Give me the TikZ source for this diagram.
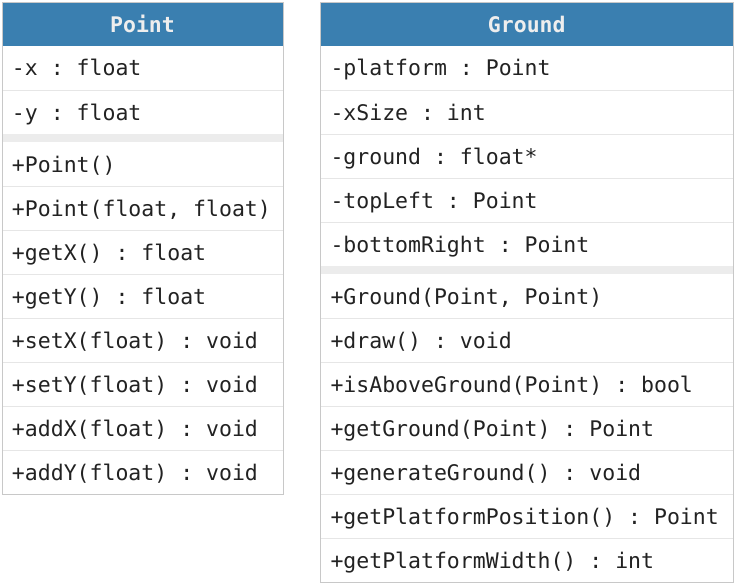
\documentclass[tikz,border=0pt]{standalone}
\usepackage{fontspec}
\newfontfamily\codefont{DejaVu Sans Mono}
\definecolor{hdrblue}{RGB}{58,127,176}
\definecolor{hdrtext}{RGB}{238,238,238}
\definecolor{ink}{RGB}{34,34,34}
\definecolor{sepgray}{RGB}{236,236,236}
\definecolor{framegray}{RGB}{200,200,200}
\definecolor{rowline}{RGB}{230,230,230}
% fixed-width spaces and a common strut for every row
\newcommand\rowstrut{\spaceskip=0.602em\relax\xspaceskip=0.602em\relax\rule[-8pt]{0pt}{32pt}}
\tikzset{
  hdr/.style={fill=hdrblue, text=hdrtext, font=\codefont\bfseries\fontsize{21.5}{26}\selectfont,
    minimum height=43, inner sep=0, outer sep=0, anchor=north west, execute at begin node=\rowstrut},
  member/.style={text=ink, font=\codefont\fontsize{21.5}{26}\selectfont, minimum height=44,
    inner xsep=10, inner ysep=0, outer sep=0, align=left, anchor=north west, execute at begin node=\rowstrut},
  pmem/.style={member, text width=261},
  gmem/.style={member, text width=392.5},
  gapband/.style={fill=sepgray, minimum height=8, inner sep=0, outer sep=0, anchor=north west},
  frame/.style={draw=framegray, line width=1pt},
  divider/.style={draw=rowline, line width=1pt}
}
\begin{document}
\begin{tikzpicture}[x=1pt,y=-1pt]
\useasboundingbox (0,0) rectangle (736,586);
\fill[white] (0,0) rectangle (736,586);

% class Point
\node[hdr, minimum width=281] (pt) at (2,3) {Point};
\node[pmem] (pa1) at (pt.south west) {-x : float};
\node[pmem] (pa2) at (pa1.south west) {-y : float};
\node[gapband, minimum width=281] (pg) at (pa2.south west) {};
\node[pmem] (po1) at (pg.south west) {+Point()};
\node[pmem] (po2) at (po1.south west) {+Point(float, float)};
\node[pmem] (po3) at (po2.south west) {+getX() : float};
\node[pmem] (po4) at (po3.south west) {+getY() : float};
\node[pmem] (po5) at (po4.south west) {+setX(float) : void};
\node[pmem] (po6) at (po5.south west) {+setY(float) : void};
\node[pmem] (po7) at (po6.south west) {+addX(float) : void};
\node[pmem] (po8) at (po7.south west) {+addY(float) : void};
\foreach \r in {pa1,po1,po2,po3,po4,po5,po6,po7}
  \draw[divider] (\r.south west) -- (\r.south east);
\draw[frame] (pt.north west) rectangle (po8.south east);

% class Ground
\node[hdr, minimum width=412.5] (gt) at (320.5,3) {Ground};
\node[gmem] (ga1) at (gt.south west) {-platform : Point};
\node[gmem] (ga2) at (ga1.south west) {-xSize : int};
\node[gmem] (ga3) at (ga2.south west) {-ground : float*};
\node[gmem] (ga4) at (ga3.south west) {-topLeft : Point};
\node[gmem] (ga5) at (ga4.south west) {-bottomRight : Point};
\node[gapband, minimum width=412.5] (gg) at (ga5.south west) {};
\node[gmem] (go1) at (gg.south west) {+Ground(Point, Point)};
\node[gmem] (go2) at (go1.south west) {+draw() : void};
\node[gmem] (go3) at (go2.south west) {+isAboveGround(Point) : bool};
\node[gmem] (go4) at (go3.south west) {+getGround(Point) : Point};
\node[gmem] (go5) at (go4.south west) {+generateGround() : void};
\node[gmem] (go6) at (go5.south west) {+getPlatformPosition() : Point};
\node[gmem] (go7) at (go6.south west) {+getPlatformWidth() : int};
\foreach \r in {ga1,ga2,ga3,ga4,go1,go2,go3,go4,go5,go6}
  \draw[divider] (\r.south west) -- (\r.south east);
\draw[frame] (gt.north west) rectangle (go7.south east);
\end{tikzpicture}
\end{document}
